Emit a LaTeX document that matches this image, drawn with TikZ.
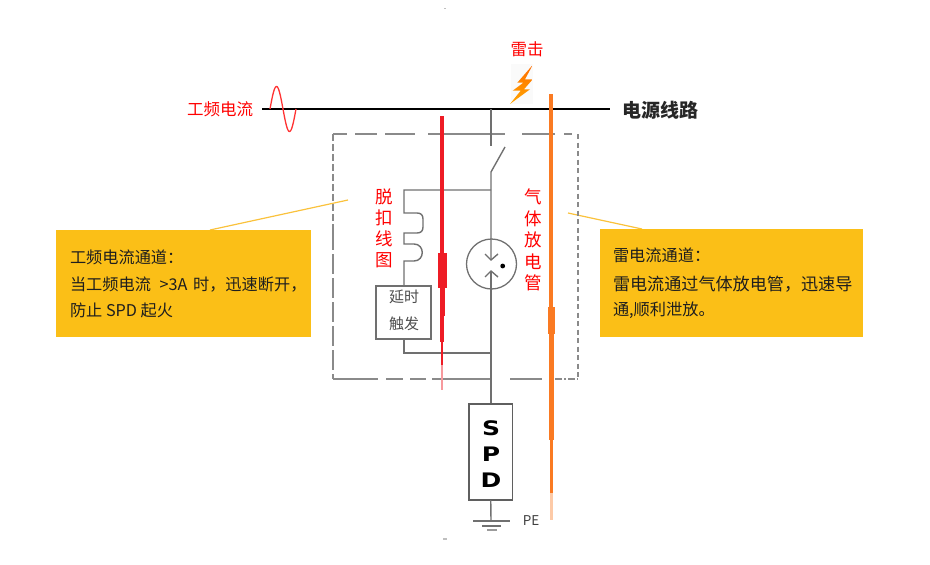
\documentclass[tikz,border=0pt]{standalone}
\usepackage{fontspec}
\setmainfont{Noto Sans CJK SC}
\newfontfamily\spdfont{DejaVu Sans}
\definecolor{boxyellow}{HTML}{FBBF17}
\definecolor{leader}{HTML}{FAC23C}
\definecolor{wire}{HTML}{707070}
\definecolor{dashc}{HTML}{8A8A8A}
\definecolor{redband}{HTML}{EE1C25}
\definecolor{orangeband}{HTML}{FA7A22}
\definecolor{txt}{HTML}{1E1E1E}
\tikzset{
  every node/.style={inner sep=0pt,outer sep=0pt},
  wireline/.style={draw=wire,line width=1.4pt},
  dashline/.style={draw=dashc,line width=1.5pt},
  redlab/.style={text=red,font=\fontsize{16.5}{17}\selectfont,anchor=center},
  vertlab/.style={text=red,font=\fontsize{17.5}{18}\selectfont,anchor=center},
  callout/.style={fill=boxyellow,anchor=north west},
  calltext/.style={text=txt,font=\fontsize{16.2}{17}\selectfont,anchor=west},
  leaderline/.style={draw=leader,line width=1.2pt},
  smalltxt/.style={text=black!70,font=\fontsize{15}{15}\selectfont}
}
\begin{document}
\begin{tikzpicture}[x=1pt,y=-1pt]
\useasboundingbox (0,0) rectangle (930,565);
% faint marks
\fill[black!25] (444,8) rectangle (446,9);
\fill[black!25] (443,538) rectangle (447,539.5);
% leaders
\coordinate (lA) at (348,200); \coordinate (lB) at (210,230);
\coordinate (rA) at (568,213); \coordinate (rB) at (642,229);
\draw[leaderline] (lA) -- (lB);
\draw[leaderline] (rA) -- (rB);
% callouts
\node[callout,minimum width=255pt,minimum height=107pt] (leftbox) at (56,230) {};
\node[callout,minimum width=263pt,minimum height=108pt] (rightbox) at (600,229) {};
\node[calltext] (l1) at (70,257) {工频电流通道：};
\node[calltext] (l2) at (70,285) {当工频电流\hspace{5pt} >3A\hspace{2pt} 时，迅速断开，};
\node[calltext] (l3) at (70,310) {防止 SPD 起火};
\node[calltext] (r1) at (613,255) {雷电流通道：};
\node[calltext,font=\fontsize{17.1}{18}\selectfont] (r2) at (613,284) {雷电流通过气体放电管，迅速导};
\node[calltext] (r3) at (613,310) {通,顺利泄放。};
% dashed box: top edge
\coordinate (tl) at (333,134); \coordinate (tr) at (578,134);
\coordinate (br) at (578,379); \coordinate (bl) at (333,379);
\coordinate (t1) at (347,134); \coordinate (t2) at (355,134); \coordinate (t3) at (377,134);
\coordinate (t4) at (385,134); \coordinate (t5) at (415,134); \coordinate (t6) at (428,134);
\coordinate (t7) at (505,134); \coordinate (t8) at (522,134); \coordinate (t9) at (555,134);
\coordinate (t10) at (564,134); \coordinate (t11) at (572,134);
\draw[dashline] (tl) -- (t1) (t2) -- (t3) (t4) -- (t5) (t6) -- (t7) (t8) -- (t9) (t10) -- (t11);
% dashed box: sides
\draw[dashline,dash pattern=on 7pt off 3pt] (tl) -- (333,230);
\draw[dashline,dash pattern=on 20pt off 4pt] (333,230) -- (bl);
\draw[dashline,dash pattern=on 5pt off 3.5pt] (tr) -- (br);
% dashed box: bottom edge
\coordinate (b1) at (378,379); \coordinate (b2) at (386,379); \coordinate (b3) at (403,379);
\coordinate (b4) at (410,379); \coordinate (b5) at (426,379); \coordinate (b6) at (432,379);
\coordinate (b7) at (490,379); \coordinate (b8) at (510,379); \coordinate (b9) at (542,379);
\coordinate (b10) at (555,379);
\draw[dashline] (bl) -- (b1) (b2) -- (b3) (b4) -- (b5) (b6) -- (b7) (b8) -- (b9);
\draw[dashline,dash pattern=on 7pt off 2pt on 2pt off 2pt] (b10) -- (br);
% bus
\coordinate (busL) at (262,109); \coordinate (busR) at (610,109);
\coordinate (tap) at (491,109);
\draw[black,line width=2.4pt] (busL) -- (busR);
% sine
\draw[red!80,line width=1.3pt,domain=0:360,samples=60,smooth]
  plot ({270+\x*26/360},{109-22.5*sin(\x)});
% switch and main wire
\coordinate (sw1) at (491,146); \coordinate (sw2) at (491,172); \coordinate (sw3) at (505,147);
\coordinate (coilT) at (491,190); \coordinate (gapT) at (491,260); \coordinate (gapB) at (491,271);
\coordinate (jn) at (491,353);
\draw[wireline] (tap) -- (sw1);
\draw[wireline] (sw3) -- (sw2) -- (coilT) -- (gapT);
\draw[wireline] (gapB) -- (jn);
% gas tube
\node[circle,draw=wire,line width=1.3pt,fill=none,minimum size=50pt] (gdt) at (491.5,264) {};
\draw[wireline] (485,254) -- (gapT) -- (498,254);
\draw[wireline] (485,277) -- (gapB) -- (498,277);
\fill[black] (502.7,266) circle (2.4pt);
% trip coil and delay box
\node[draw=wire,line width=1.3pt,minimum width=55pt,minimum height=53pt,anchor=north west] (delay) at (376,286) {};
\node[smalltxt] (d1t) at (404,297) {延时};
\node[smalltxt] (d2t) at (404,324) {触发};
\coordinate (c0) at (404,190);
\draw[wireline] (coilT) -- (c0) -- (404,213) -- (417,213)
  .. controls (421,213) and (423,215) .. (423,219) -- (423,227)
  .. controls (423,231) and (421,233) .. (417,233) -- (404,233) -- (404,244) -- (414,244)
  .. controls (425,244) and (425,261) .. (414,261) -- (404,261) -- (404,286);
\coordinate (c1) at (404,353);
\draw[wireline] (delay.south -| c1) -- (c1) -- (jn);
\draw[wireline] (jn) -- (491,404);
% SPD
\node[draw=wire!85!black,line width=1.5pt,minimum width=43.5pt,minimum height=96pt,anchor=north west] (spd) at (469,404) {};
\foreach \l/\yy in {S/428,P/454,D/480}{
  \node[font=\spdfont\bfseries\fontsize{20}{20}\selectfont,text=black] (spd\l) at (491,\yy) {\scalebox{1.25}[1]{\l}};
}
% ground
\coordinate (g0) at (491,521);
\draw[wireline] (spd.south) -- (g0);
\draw[wireline] (473,521) -- (510,521);
\draw[wireline] (482,526) -- (501,526);
\draw[wireline,draw=wire!70] (487,530) -- (497,530);
\node[text=black!75,font=\fontsize{13.5}{14}\selectfont] (pe) at (531,521) {PE};
% red band
\fill[redband] (440,116) rectangle (444.3,253);
\fill[redband] (437.5,253) rectangle (446.5,288);
\fill[redband] (439.5,288) rectangle (444.5,316);
\fill[redband] (439.9,316) rectangle (444,342);
\fill[redband] (440.6,342) rectangle (443.4,365);
\fill[redband!45] (440.6,365) rectangle (443.4,390);
% orange band
\fill[orangeband] (549.3,94) rectangle (553.3,307);
\fill[orangeband] (547.7,307) rectangle (554.9,334);
\fill[orangeband] (549,334) rectangle (553.7,440);
\fill[orangeband] (549.8,440) rectangle (552.8,493);
\fill[orangeband!40] (549.8,493) rectangle (552.8,520);
% lightning
\fill[black!2] (511,64) rectangle (533,104);
\shade[top color=orange!85!red,bottom color=orange!70!yellow]
  (532.7,65) -- (517.3,82.7) -- (523.3,82.7) -- (512.7,90.7) -- (520.7,90.7) -- (510,104)
  -- (530,89.3) -- (524,89.3) -- (532.7,79.3) -- (525,79.3) -- cycle;
% labels
\node[redlab] (pf) at (220,109) {工频电流};
\node[redlab] (ls) at (527,49) {雷击};
\node[text=black!85,font=\bfseries\fontsize{19}{19}\selectfont] (pl) at (660,110) {电源线路};
\foreach \t/\yy [count=\i] in {脱/197,扣/218,线/239,图/260}{
  \node[vertlab] (tr\i) at (384,\yy) {\t};
}
\foreach \t/\yy [count=\i] in {气/197,体/219,放/240,电/262,管/283}{
  \node[vertlab] (gt\i) at (533,\yy) {\t};
}
\end{tikzpicture}
\end{document}
